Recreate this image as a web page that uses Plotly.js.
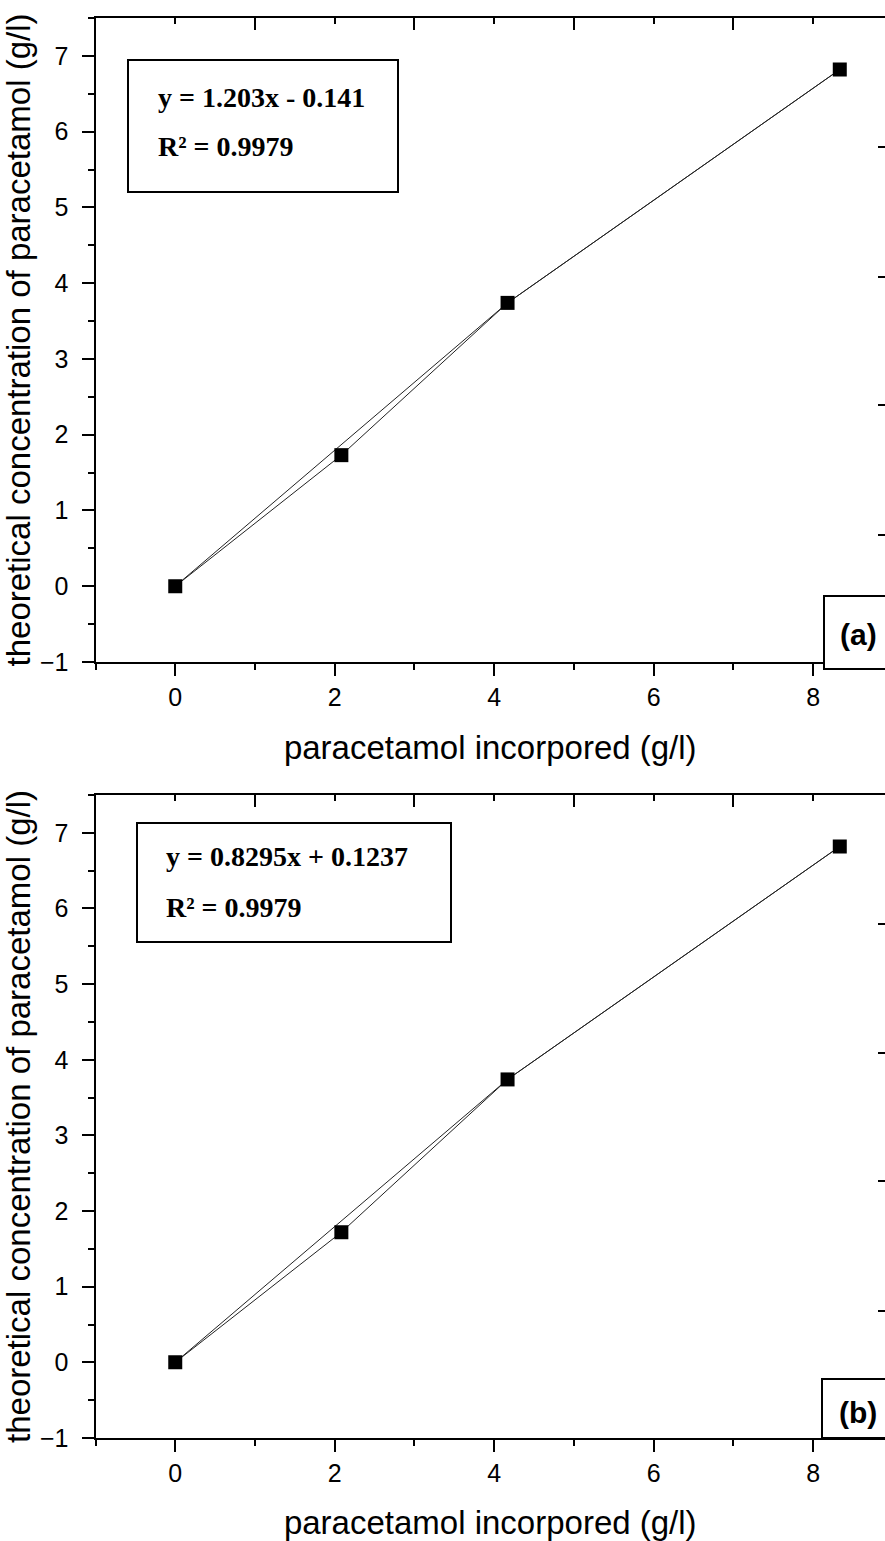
<!DOCTYPE html>
<html>
<head>
<meta charset="utf-8">
<script src="https://cdn.plot.ly/plotly-3.0.1.min.js"></script>
<style>html,body{margin:0;padding:0;background:#fff;}#chart{width:885px;height:1541px;}</style>
</head>
<body>
<div id="chart"></div>
<script>
// ---- data ----
const paracetamolIncorporated = [0, 2.083, 4.167, 8.333];
const theoreticalA = [0, 1.73, 3.74, 6.82];
const theoreticalB = [0, 1.72, 3.74, 6.82];
const guideX = [0, 4.167, 8.333];
const guideYA = [0, 3.74, 6.82];
const guideYB = [0, 3.74, 6.82];
const xRange = [-1, 8.9];
const yRange = [-1, 7.5];
const rightTickVals = [0.99, 2.01, 3.01, 4.02];
const xTitle = "paracetamol incorpored (g/l)";
const yTitle = "theoretical concentration of paracetamol (g/l)";
const eqA = "y = 1.203x - 0.141";
const r2A = "R² = 0.9979";
const eqB = "y = 0.8295x + 0.1237";
const r2B = "R² = 0.9979";
const panelLabels = ["(a)", "(b)"];

// ---- layout helpers ----
const W = 885, H = 1541;
const px = v => v / W;
const py = v => 1 - v / H;
const SANS = "Liberation Sans, Arial, sans-serif";
const SERIF = "Liberation Serif, Times New Roman, serif";

function mainX(anchor) {
  return {
    domain: [px(95.5), 1], range: xRange, anchor: anchor,
    showline: true, linewidth: 2, linecolor: '#000',
    ticks: 'outside', ticklen: 12, tickwidth: 2, tickcolor: '#000',
    tick0: 0, dtick: 2,
    minor: {ticks: 'outside', ticklen: 6, tickwidth: 2, tickcolor: '#000', dtick: 1, tick0: 0, showgrid: false},
    tickfont: {family: SANS, size: 25, color: '#000'},
    showgrid: false, zeroline: false,
    title: {text: xTitle, font: {family: SANS, size: 33, color: '#000'}, standoff: 26}
  };
}
function topX(overlay, anchor) {
  return {
    overlaying: overlay, side: 'top', anchor: anchor, range: xRange,
    showline: true, linewidth: 2, linecolor: '#000',
    ticks: 'inside', ticklen: 12, tickwidth: 2, tickcolor: '#000',
    tick0: 1, dtick: 2,
    minor: {ticks: 'inside', ticklen: 6, tickwidth: 2, tickcolor: '#000', dtick: 1, tick0: 0, showgrid: false},
    showticklabels: false, showgrid: false, zeroline: false
  };
}
function mainY(anchor, top, bottom) {
  return {
    domain: [py(bottom), py(top)], range: yRange, anchor: anchor,
    showline: true, linewidth: 2, linecolor: '#000',
    ticks: 'outside', ticklen: 12, tickwidth: 2, tickcolor: '#000',
    tick0: 0, dtick: 1, ticklabelstandoff: 8,
    minor: {ticks: 'outside', ticklen: 6, tickwidth: 2, tickcolor: '#000', dtick: 0.5, tick0: 0, showgrid: false},
    tickfont: {family: SANS, size: 25, color: '#000'},
    showgrid: false, zeroline: false,
    title: {text: yTitle, font: {family: SANS, size: 33, color: '#000'}, standoff: 10}
  };
}
function rightY(overlay) {
  return {
    overlaying: overlay, anchor: 'free', position: 1, side: 'left',
    range: [0, 5.03], tickvals: rightTickVals,
    showline: false, ticks: 'outside', ticklen: 7, tickwidth: 2, tickcolor: '#000',
    showticklabels: false, showgrid: false, zeroline: false
  };
}

const lineStyle = {color: '#222', width: 1};
const markerStyle = {symbol: 'square', size: 14, color: '#000'};
const emptyTrace = (xa, ya) => ({x: [], y: [], xaxis: xa, yaxis: ya, mode: 'markers', showlegend: false, hoverinfo: 'skip'});

const traces = [
  {x: guideX, y: guideYA, xaxis: 'x', yaxis: 'y', mode: 'lines', line: lineStyle, showlegend: false, hoverinfo: 'skip'},
  {x: paracetamolIncorporated, y: theoreticalA, xaxis: 'x', yaxis: 'y', mode: 'lines+markers', line: lineStyle, marker: markerStyle, showlegend: false},
  {x: guideX, y: guideYB, xaxis: 'x3', yaxis: 'y3', mode: 'lines', line: lineStyle, showlegend: false, hoverinfo: 'skip'},
  {x: paracetamolIncorporated, y: theoreticalB, xaxis: 'x3', yaxis: 'y3', mode: 'lines+markers', line: lineStyle, marker: markerStyle, showlegend: false},
  emptyTrace('x2', 'y'), emptyTrace('x', 'y2'),
  emptyTrace('x4', 'y3'), emptyTrace('x3', 'y4')
];

function txt(text, x, y, family, size, bold, xanchor) {
  return {text: bold ? '<b>' + text + '</b>' : text, xref: 'paper', yref: 'paper',
    x: px(x), y: py(y), xanchor: xanchor || 'left', yanchor: 'middle', showarrow: false,
    font: {family: family, size: size, color: '#000'}};
}
function box(x0, y0, x1, y1) {
  return {type: 'rect', xref: 'paper', yref: 'paper', x0: px(x0), x1: px(x1), y0: py(y0), y1: py(y1),
    line: {color: '#000', width: 2}, fillcolor: 'rgba(255,255,255,1)', layer: 'above'};
}

const layout = {
  width: W, height: H,
  margin: {l: 0, r: 0, t: 0, b: 0},
  paper_bgcolor: '#fff', plot_bgcolor: 'rgba(0,0,0,0)',
  showlegend: false,
  xaxis: mainX('y'), xaxis2: topX('x', 'y'),
  yaxis: mainY('x', 18, 662), yaxis2: rightY('y'),
  xaxis3: mainX('y3'), xaxis4: topX('x3', 'y3'),
  yaxis3: mainY('x3', 795, 1438), yaxis4: rightY('y3'),
  shapes: [
    box(128, 60, 398, 192),
    box(137, 823, 451, 942),
    box(824, 596, 900, 669),
    box(822, 1379, 900, 1438)
  ],
  annotations: [
    txt(eqA, 156, 97, SERIF, 28, true),
    txt(r2A, 156, 146, SERIF, 28, true),
    txt(eqB, 164, 857, SERIF, 28, true),
    txt(r2B, 164, 907, SERIF, 28, true),
    txt(panelLabels[0], 858, 634, SANS, 30, true, 'center'),
    txt(panelLabels[1], 858, 1412, SANS, 30, true, 'center')
  ]
};

Plotly.newPlot('chart', traces, layout, {displayModeBar: false, staticPlot: true});
</script>
</body>
</html>
